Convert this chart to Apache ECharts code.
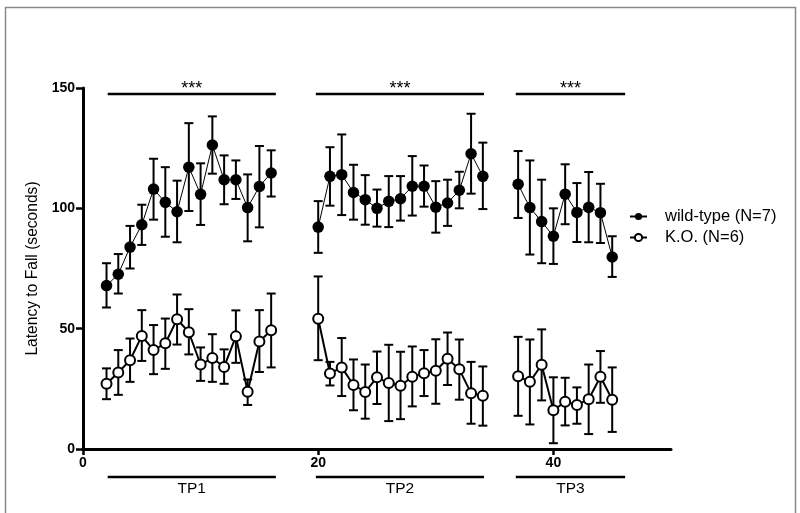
<!DOCTYPE html>
<html><head><meta charset="utf-8">
<script src="https://cdn.jsdelivr.net/npm/echarts@6/dist/echarts.min.js"></script>
<style>html,body{margin:0;padding:0;background:#fff}#c{width:800px;height:513px}</style>
</head><body><div id="c"></div>
<script>
// ---- data ----
const tp1X = [2,3,4,5,6,7,8,9,10,11,12,13,14,15,16];
const wt1   = [67.9,72.6,83.9,93.2,108.0,102.5,98.6,117.1,105.8,126.3,111.9,111.9,100.3,109.1,114.7];
const wt1Lo = [58.8,64.6,75.0,84.8,95.3,88.2,85.9,98.9,93.1,114.4,101.7,103.9,86.3,92.1,104.9];
const wt1Hi = [77.2,81.0,92.7,101.5,120.6,117.1,111.5,135.4,118.7,138.2,122.0,119.9,114.1,125.9,124.1];
const ko1   = [27.1,31.8,36.9,47.0,41.1,43.9,53.9,48.5,35.1,37.8,34.1,46.8,23.8,44.7,49.3];
const ko1Lo = [20.7,22.5,27.9,36.6,31.1,33.3,43.4,39.3,28.3,27.9,27.1,35.8,18.3,32.0,33.9];
const ko1Hi = [33.5,41.1,45.9,57.7,51.5,54.2,64.2,58.1,42.2,47.7,41.4,57.6,28.9,57.7,64.6];

const tp2X = [20,21,22,23,24,25,26,27,28,29,30,31,32,33,34];
const wt2   = [92.2,113.3,114.0,106.6,103.6,100.0,102.9,104.0,109.2,109.2,100.5,102.2,107.5,122.7,113.3];
const wt2Lo = [81.5,101.1,97.2,95.3,93.2,92.4,92.2,94.9,97.0,100.7,89.9,92.7,100.0,106.1,99.7];
const wt2Hi = [103.0,125.4,130.7,118.1,113.8,107.8,113.4,113.4,121.7,117.8,111.3,111.9,115.2,139.3,127.3];
const ko2   = [54.1,31.4,33.9,26.6,23.7,29.8,27.4,26.3,30.0,31.5,32.5,37.5,33.1,23.2,22.1];
const ko2Lo = [36.9,26.4,22.0,16.1,12.6,18.7,11.6,12.4,17.7,22.0,18.8,26.6,20.5,10.5,9.7];
const ko2Hi = [71.7,36.2,46.1,37.2,35.1,40.5,43.3,40.4,42.6,41.1,45.6,48.4,45.5,36.2,34.3];

const tp3X = [37,38,39,40,41,42,43,44,45];
const wt3   = [110.0,100.3,94.5,88.4,105.9,98.3,100.4,98.2,79.8];
const wt3Lo = [96.0,80.8,77.2,76.9,93.4,86.0,85.9,85.6,71.5];
const wt3Hi = [123.8,119.9,111.9,100.0,118.3,110.5,115.1,110.2,88.4];
const ko3   = [30.2,27.9,35.0,16.1,19.6,18.3,20.7,30.0,20.5];
const ko3Lo = [13.8,10.2,20.2,2.4,9.8,10.5,6.2,19.2,7.1];
const ko3Hi = [46.6,45.5,49.7,29.8,29.6,25.6,35.1,40.7,33.9];

const periodNames = ['TP1','TP2','TP3'];
const periodStart = [2.1, 19.8, 36.8];
const periodEnd   = [16.4, 34.1, 46.1];
const sigLabels   = ['***','***','***'];

const seriesNames = ['wild-type (N=7)','K.O. (N=6)'];
const xTicks = [0,20,40];
const yMin = 0, yMax = 150, yStep = 50;

// ---- build ----
const FONT = 'Liberation Sans, Arial, Helvetica, sans-serif';
const segs = [
  {x: tp1X, wt: [wt1, wt1Lo, wt1Hi], ko: [ko1, ko1Lo, ko1Hi]},
  {x: tp2X, wt: [wt2, wt2Lo, wt2Hi], ko: [ko2, ko2Lo, ko2Hi]},
  {x: tp3X, wt: [wt3, wt3Lo, wt3Hi], ko: [ko3, ko3Lo, ko3Hi]}
];

function errRender(params, api) {
  const x = api.value(0), lo = api.value(1), hi = api.value(2);
  const pLo = api.coord([x, lo]), pHi = api.coord([x, hi]);
  const cw = 4.5;
  const st = {stroke: '#000', lineWidth: 2};
  return {type: 'group', children: [
    {type: 'line', shape: {x1: pLo[0], y1: pLo[1], x2: pHi[0], y2: pHi[1]}, style: st},
    {type: 'line', shape: {x1: pLo[0]-cw, y1: pLo[1], x2: pLo[0]+cw, y2: pLo[1]}, style: st},
    {type: 'line', shape: {x1: pHi[0]-cw, y1: pHi[1], x2: pHi[0]+cw, y2: pHi[1]}, style: st}
  ]};
}

const series = [];
segs.forEach(s => {
  ['wt','ko'].forEach(g => {
    series.push({
      type: 'custom', renderItem: errRender, silent: true, z: 1,
      encode: {x: 0, y: [1, 2]},
      data: s.x.map((x, i) => [x, s[g][1][i], s[g][2][i]])
    });
  });
});
segs.forEach(s => {
  series.push({
    name: seriesNames[0], type: 'line', z: 3,
    data: s.x.map((x, i) => [x, s.wt[0][i]]),
    symbol: 'circle', symbolSize: 11.5, showAllSymbol: true,
    lineStyle: {color: '#000', width: 1},
    itemStyle: {color: '#000', borderWidth: 0}
  });
  series.push({
    name: seriesNames[1], type: 'line', z: 3,
    data: s.x.map((x, i) => [x, s.ko[0][i]]),
    symbol: 'circle', symbolSize: 10, showAllSymbol: true,
    lineStyle: {color: '#000', width: 2},
    itemStyle: {color: '#fff', borderColor: '#000', borderWidth: 2}
  });
});

// significance bars (top) and period bars (bottom)
series.push({
  type: 'custom', silent: true, clip: false, z: 2,
  encode: {x: [0, 1], y: 2},
  data: periodStart.map((s, i) => [s, periodEnd[i], yMax]),
  renderItem: function (params, api) {
    const i = params.dataIndex;
    const a = api.coord([api.value(0), yMax]);
    const b = api.coord([api.value(1), yMax]);
    const z0 = api.coord([api.value(0), yMin]);
    const z1 = api.coord([api.value(1), yMin]);
    const ty = a[1] + 6, by = z0[1] + 28;
    return {type: 'group', children: [
      {type: 'line', shape: {x1: a[0], y1: ty, x2: b[0], y2: ty}, style: {stroke: '#000', lineWidth: 2.5}},
      {type: 'text', x: (a[0] + b[0]) / 2, y: ty + 4, style: {text: sigLabels[i], fill: '#000', font: '18px ' + FONT, align: 'center', verticalAlign: 'bottom'}},
      {type: 'line', shape: {x1: z0[0], y1: by, x2: z1[0], y2: by}, style: {stroke: '#000', lineWidth: 2.5}},
      {type: 'text', x: (z0[0] + z1[0]) / 2, y: by + 4, style: {text: periodNames[i], fill: '#000', font: '15.5px ' + FONT, align: 'center', verticalAlign: 'top'}}
    ]};
  }
});

const chart = echarts.init(document.getElementById('c'), null, {renderer: 'canvas'});
chart.setOption({
  animation: false,
  backgroundColor: '#fff',
  textStyle: {fontFamily: FONT},
  grid: {left: 83, right: 129, top: 88, bottom: 64, containLabel: false},
  graphic: [
    {type: 'polyline', silent: true, shape: {points: [[5.5, 513], [5.5, 7.5], [795.5, 7.5], [795.5, 513]]},
     style: {stroke: '#8a8a8a', lineWidth: 1.5, fill: null}}
  ],
  legend: {
    orient: 'vertical', left: 624, top: 203, itemGap: 4, itemWidth: 17, itemHeight: 9,
    data: seriesNames,
    textStyle: {fontSize: 16.5, color: '#000', fontFamily: FONT, padding: [0, 0, 0, 13]}
  },
  xAxis: {
    type: 'value', min: 0, max: 50, interval: 20,
    splitLine: {show: false},
    axisLine: {lineStyle: {color: '#000', width: 3}},
    axisTick: {customValues: xTicks, length: 6, lineStyle: {color: '#000', width: 2.5}},
    axisLabel: {customValues: xTicks, color: '#000', fontWeight: 'bold', fontSize: 14, margin: 7, fontFamily: FONT}
  },
  yAxis: {
    type: 'value', min: yMin, max: yMax, interval: yStep,
    name: 'Latency to Fall (seconds)', nameLocation: 'middle', nameGap: 40,
    nameTextStyle: {fontSize: 15.6, color: '#000', fontFamily: FONT},
    splitLine: {show: false},
    axisLine: {show: true, lineStyle: {color: '#000', width: 3}},
    axisTick: {show: true, length: 7, lineStyle: {color: '#000', width: 2.5}},
    axisLabel: {color: '#000', fontWeight: 'bold', fontSize: 14, margin: 8, fontFamily: FONT}
  },
  series: series
});
</script>
</body></html>
